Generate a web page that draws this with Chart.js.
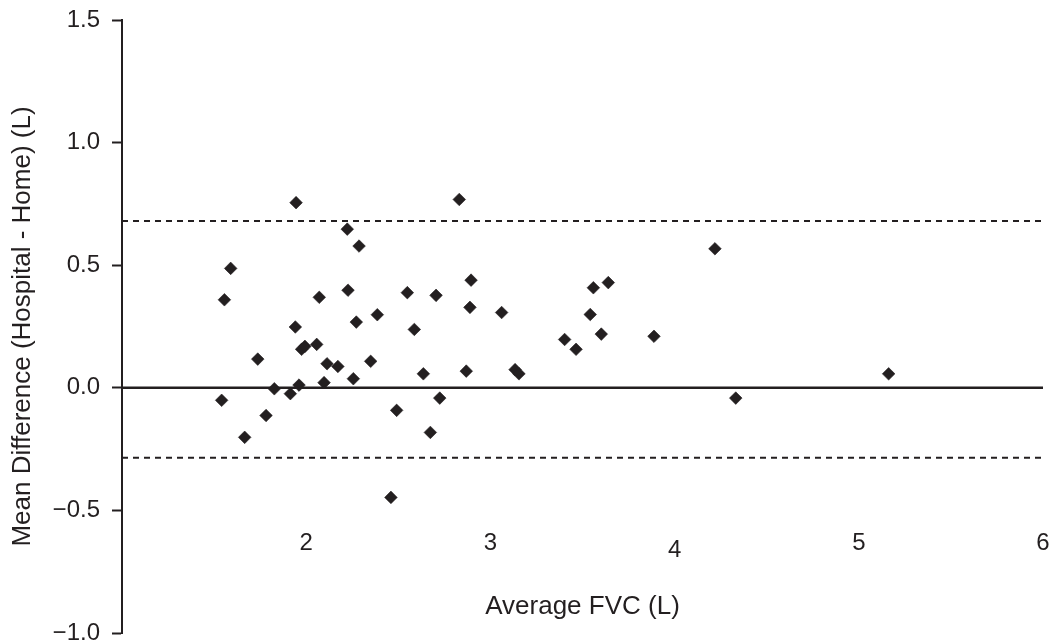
<!DOCTYPE html>
<html>
<head>
<meta charset="utf-8">
<script src="https://cdn.jsdelivr.net/npm/chart.js@4.4.1/dist/chart.umd.min.js"></script>
<style>
html,body{margin:0;padding:0;background:#ffffff;}
canvas{display:block;}
</style>
</head>
<body>
<canvas id="c" width="1053" height="643"></canvas>
<script>
// Average FVC (L) for each subject
const fvcAvg = [1.945,2.831,2.223,2.287,1.590,1.556,2.071,2.227,2.549,2.705,2.895,2.889,1.941,2.272,2.386,2.587,1.975,1.993,2.057,1.737,2.113,2.172,2.350,2.256,2.097,1.961,1.827,1.914,2.636,2.869,1.541,1.782,1.666,2.491,2.725,2.674,2.460,3.061,3.134,3.155,3.559,3.640,3.542,3.403,3.465,3.602,3.888,4.219,4.332,5.162];
// Mean difference (Hospital - Home) (L)
const meanDiff = [0.755,0.768,0.647,0.578,0.487,0.359,0.369,0.398,0.388,0.377,0.439,0.328,0.248,0.268,0.298,0.238,0.157,0.169,0.177,0.117,0.098,0.087,0.108,0.037,0.021,0.011,-0.004,-0.024,0.057,0.068,-0.051,-0.113,-0.202,-0.092,-0.042,-0.182,-0.447,0.307,0.074,0.057,0.408,0.429,0.299,0.197,0.157,0.219,0.210,0.567,-0.042,0.057];
// Reference lines: bias and limits of agreement
const biasLine = 0.0;
const upperLimit = 0.68;
const lowerLimit = -0.285;
const lineXRange = [1, 6];
// Tick labels
const xTickValues = [2, 3, 4, 5, 6];
const yTickValues = [1.5, 1.0, 0.5, 0.0, -0.5, -1.0];
const yTickLabels = ['1.5', '1.0', '0.5', '0.0', '\u22120.5', '\u22121.0'];

const ink = '#231f20';
const fontFamily = '"Liberation Sans", Arial, Helvetica, sans-serif';

const points = fvcAvg.map((x, i) => ({x: x, y: meanDiff[i]}));
function hLine(v) { return lineXRange.map(x => ({x: x, y: v})); }

new Chart(document.getElementById('c'), {
  type: 'scatter',
  data: {
    datasets: [
      {
        type: 'line', data: hLine(biasLine), borderColor: ink, borderWidth: 2.5,
        pointRadius: 0, fill: false, order: 2
      },
      {
        type: 'line', data: hLine(upperLimit), borderColor: ink, borderWidth: 2,
        borderDash: [6, 5], pointRadius: 0, fill: false, order: 2
      },
      {
        type: 'line', data: hLine(lowerLimit), borderColor: ink, borderWidth: 2,
        borderDash: [6, 5], pointRadius: 0, fill: false, order: 2
      },
      {
        data: points, pointStyle: 'rectRot', pointRadius: 6.3,
        backgroundColor: ink, borderColor: ink, borderWidth: 0.6, order: 1
      }
    ]
  },
  options: {
    responsive: false,
    animation: false,
    layout: { padding: { top: 20, right: 10, bottom: 10, left: 0 } },
    plugins: { legend: { display: false }, tooltip: { enabled: false } },
    scales: {
      x: {
        type: 'linear',
        min: 1, max: 6,
        position: { y: -0.5 },
        grid: { display: false, drawTicks: false },
        border: { display: false },
        afterBuildTicks: (s) => { s.ticks = xTickValues.map(v => ({value: v})); },
        afterFit: (s) => { s.paddingLeft = 0; s.paddingRight = 0; },
        ticks: {
          color: ink,
          padding: 19,
          maxRotation: 0,
          font: (ctx) => ({
            family: fontFamily, size: 24,
            lineHeight: (ctx.tick && ctx.tick.value === 4) ? 1.78 : 1.2
          }),
          callback: (v) => String(v)
        },
        title: {
          display: true,
          text: 'Average FVC (L)',
          color: ink,
          font: { family: fontFamily, size: 26 },
          padding: { top: 0, bottom: 2 }
        }
      },
      y: {
        type: 'linear',
        min: -1.0, max: 1.5,
        afterBuildTicks: (s) => { s.ticks = yTickValues.map(v => ({value: v})); },
        afterFit: (s) => { s.width = 122; s.paddingTop = 0; s.paddingBottom = 0; },
        grid: {
          display: true, drawOnChartArea: false, drawTicks: true,
          tickLength: 10, tickWidth: 2, tickColor: ink, color: ink
        },
        border: { display: true, width: 2, color: ink },
        ticks: {
          color: ink,
          padding: 12,
          font: { family: fontFamily, size: 24 },
          callback: (v) => {
            const i = yTickValues.findIndex(t => Math.abs(t - v) < 1e-9);
            return i >= 0 ? yTickLabels[i] : '';
          }
        },
        title: {
          display: true,
          text: 'Mean Difference (Hospital - Home) (L)',
          color: ink,
          font: { family: fontFamily, size: 26 },
          padding: { top: 7, bottom: 0 }
        }
      }
    }
  }
});
</script>
</body>
</html>
